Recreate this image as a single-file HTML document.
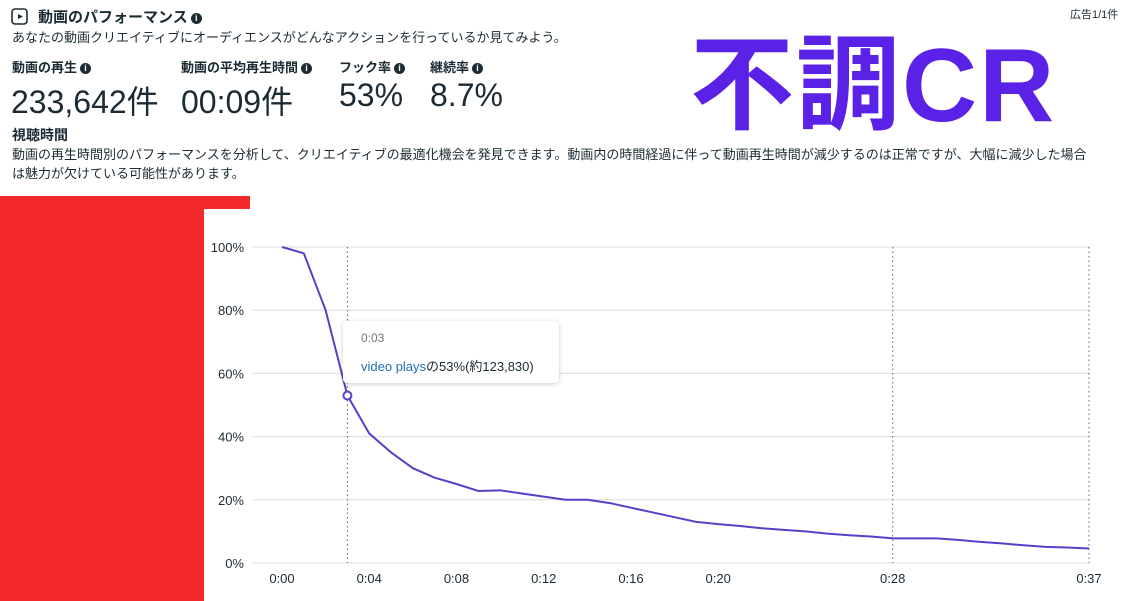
<!DOCTYPE html>
<html><head><meta charset="utf-8"><style>
body{margin:0;width:1133px;height:601px;background:#fff;font-family:"Liberation Sans","Noto Sans CJK JP",sans-serif;color:#1c2b33;position:relative;overflow:hidden}
.a{position:absolute;white-space:nowrap}
.info{display:inline-block;width:11px;height:11px;border-radius:50%;background:#1c2b33;color:#fff;font-size:9px;line-height:11px;text-align:center;font-weight:bold;vertical-align:1px;margin-left:3px}
.lbl{font-size:13px;font-weight:bold;top:57px}
.val{font-size:32px;top:77px}
</style></head><body>
<svg class="a" style="left:10px;top:6px" width="20" height="20"><rect x="2" y="3" width="15" height="15" rx="3" fill="none" stroke="#1c2b33" stroke-width="1.6"/><path d="M8 8 L13 10.5 L8 13Z" fill="#1c2b33"/></svg>
<div class="a" style="left:38px;top:6px;font-size:15px;font-weight:bold">動画のパフォーマンス<span class="info">i</span></div>
<div class="a" style="left:1070px;top:6px;font-size:11px">広告1/1件</div>
<div class="a" style="left:12px;top:27px;font-size:13px">あなたの動画クリエイティブにオーディエンスがどんなアクションを行っているか見てみよう。</div>
<div class="a lbl" style="left:12px">動画の再生<span class="info">i</span></div>
<div class="a val" style="left:11px">233,642件</div>
<div class="a lbl" style="left:181px">動画の平均再生時間<span class="info">i</span></div>
<div class="a val" style="left:181px">00:09件</div>
<div class="a lbl" style="left:339px">フック率<span class="info">i</span></div>
<div class="a val" style="left:339px">53%</div>
<div class="a lbl" style="left:430px">継続率<span class="info">i</span></div>
<div class="a val" style="left:430px">8.7%</div>
<div class="a" style="left:690px;top:0px;font-size:104px;font-weight:bold;color:#5a22e6;letter-spacing:2px">不調CR</div>
<div class="a" style="left:12px;top:125px;font-size:14px;font-weight:bold">視聴時間</div>
<div class="a" style="left:12px;top:145px;font-size:13px;line-height:19px;white-space:normal;width:1112px">動画の再生時間別のパフォーマンスを分析して、クリエイティブの最適化機会を発見できます。動画内の時間経過に伴って動画再生時間が減少するのは正常ですが、大幅に減少した場合<br>は魅力が欠けている可能性があります。</div>
<div class="a" style="left:0;top:196px;width:204px;height:405px;background:#f42a2a"></div>
<div class="a" style="left:204px;top:196px;width:46px;height:13px;background:#f42a2a"></div>
<svg id="chart" class="a" style="left:0;top:0" width="1133" height="601"></svg>
<div class="a" style="left:343px;top:321px;width:216px;height:62px;background:#fff;border-radius:4px;box-shadow:0 1px 5px rgba(0,0,0,.2)">
<div class="a" style="left:18px;top:10px;font-size:12px;color:#777">0:03</div>
<div class="a" style="left:18px;top:35px;font-size:13px"><span style="color:#1f6fb5">video plays</span>の53%(約123,830)</div>
</div>
<script>
const seconds=[0,1,2,3,4,5,6,7,8,9,10,11,12,13,14,15,16,17,18,19,20,21,22,23,24,25,26,27,28,29,30,31,32,33,34,35,36,37];
const retention=[100,98,80,53,41,35,30,27,25,22.8,23,22,21,20,20,19,17.5,16,14.5,13,12.3,11.7,11,10.5,10,9.3,8.8,8.4,7.8,7.8,7.8,7.3,6.7,6.2,5.6,5.1,4.9,4.6];
const yTicks=[0,20,40,60,80,100];
const xTickSec=[0,4,8,12,16,20,28,37];
const xTickLabels=["0:00","0:04","0:08","0:12","0:16","0:20","0:28","0:37"];
const vLines=[3,28,37];
const hoverSec=3;
const NS="http://www.w3.org/2000/svg",svg=document.getElementById('chart');
const x=s=>282+s*(1089-282)/37, y=v=>563-v*(563-247)/100;
function mk(t,a){const e=document.createElementNS(NS,t);for(const k in a)e.setAttribute(k,a[k]);svg.appendChild(e);return e;}
yTicks.forEach(v=>{
 const l=mk('line',{x1:252,x2:1090,y1:y(v),y2:y(v),stroke:'#dcdcdc','stroke-width':1});
 
 
 const t=mk('text',{x:244,y:y(v)+5,'text-anchor':'end','font-size':13,fill:'#1c2b33'});t.textContent=v+'%';
 
 
});
vLines.forEach(s=>{
 const l=mk('line',{x1:x(s),x2:x(s),y1:247,y2:563,stroke:'#666','stroke-width':1,'stroke-dasharray':'1.5,3'});
 
 
});
xTickSec.forEach((s,i)=>{
 const t=mk('text',{x:x(s),y:583,'text-anchor':'middle','font-size':13,fill:'#1c2b33'});t.textContent=xTickLabels[i];
 
 
});
const p=mk('polyline',{points:seconds.map((s,i)=>x(s)+','+y(retention[i])).join(' '),fill:'none',stroke:'#5a3ec8','stroke-width':2,'stroke-linejoin':'round'});


const c=mk('circle',{cx:x(hoverSec),cy:y(retention[seconds.indexOf(hoverSec)]),r:4,fill:'#fff',stroke:'#5a3ec8','stroke-width':2});


</script>
</body></html>
